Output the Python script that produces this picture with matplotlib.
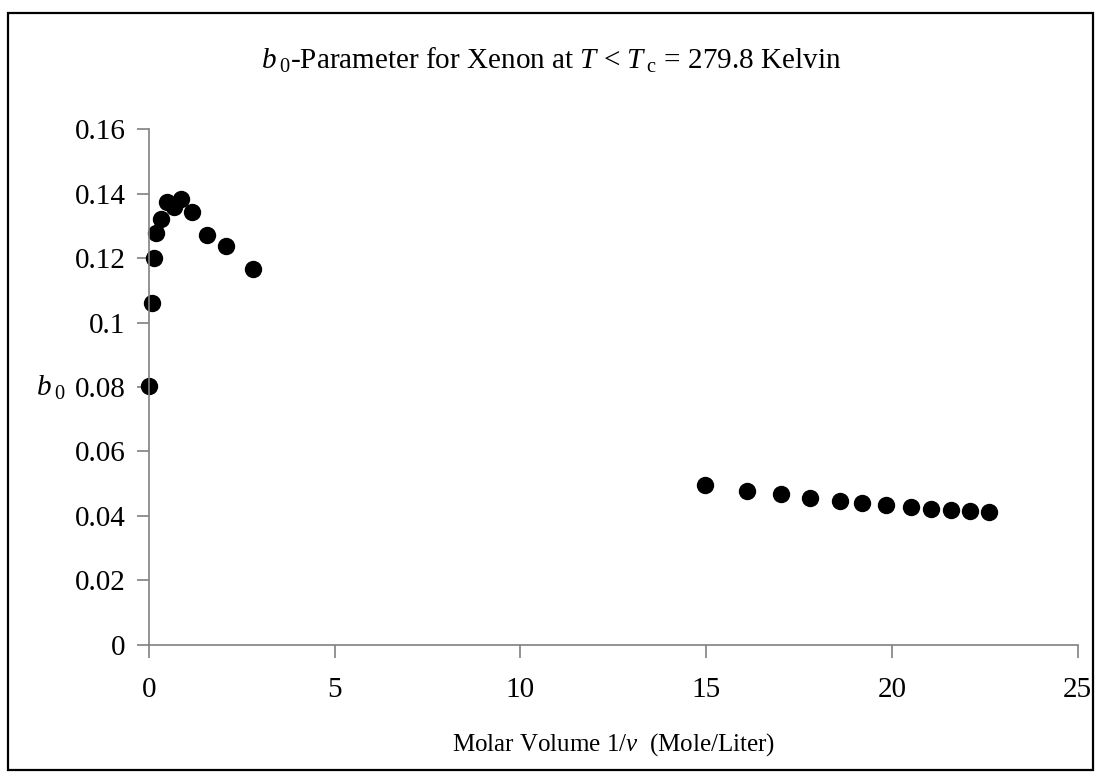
import matplotlib
matplotlib.use("Agg")
import matplotlib.pyplot as plt
from matplotlib.patches import Rectangle
from matplotlib.ticker import FuncFormatter

plt.rcParams["font.family"] = ["Liberation Serif", "DejaVu Serif"]
plt.rcParams["mathtext.fontset"] = "custom"
plt.rcParams["mathtext.rm"] = "Liberation Serif"
plt.rcParams["mathtext.it"] = "Liberation Serif:italic"

# gas branch (low density)
density_gas = [0.01, 0.08, 0.13, 0.19, 0.31, 0.48, 0.66, 0.87, 1.15, 1.55, 2.07, 2.81]
b0_gas = [0.0804, 0.1060, 0.1199, 0.1277, 0.1321, 0.1373, 0.1357, 0.1383, 0.1342, 0.1271, 0.1237, 0.1165]

# liquid branch (high density)
density_liq = [14.97, 16.1, 17.0, 17.8, 18.6, 19.2, 19.85, 20.5, 21.05, 21.6, 22.1, 22.6]
b0_liq = [0.0495, 0.0478, 0.0467, 0.0456, 0.0447, 0.0441, 0.0434, 0.0428, 0.0423, 0.0418, 0.0414, 0.0412]

xticks = [0, 5, 10, 15, 20, 25]
yticks = [0, 0.02, 0.04, 0.06, 0.08, 0.10, 0.12, 0.14, 0.16]

fig = plt.figure(figsize=(11.02, 7.8), dpi=100)
ax = fig.add_axes([0.1352, 0.1731, 0.978 - 0.1352, 0.8346 - 0.1731])

ax.plot(density_gas + density_liq, b0_gas + b0_liq, "o", color="black", ms=11.5, clip_on=False)

ax.set_xlim(0, 25)
ax.set_ylim(0, 0.16)
ax.set_xticks(xticks)
ax.set_yticks(yticks)
ax.yaxis.set_major_formatter(FuncFormatter(lambda v, p: f"{v:g}"))

for side in ["top", "right"]:
    ax.spines[side].set_visible(False)
for side in ["left", "bottom"]:
    ax.spines[side].set_color("#808080")
    ax.spines[side].set_linewidth(1.2)

ax.tick_params(axis="both", direction="out", length=9, width=1.2, color="#808080",
               labelsize=21, labelcolor="black")
ax.tick_params(axis="y", pad=8)
ax.tick_params(axis="x", pad=14)

ax.set_xlabel(r"Molar Volume 1/$v$  (Mole/Liter)", fontsize=18, labelpad=20)
fig.text(0.033, 0.503, r"$b\,_{\mathrm{0}}$", fontsize=21, ha="left", va="center")

fig.text(0.5, 0.923, r"$b\,_{\mathrm{0}}$-Parameter for Xenon at $T$ < $T\,_{\mathrm{c}}$ = 279.8 Kelvin",
         fontsize=21, ha="center", va="center")

# outer frame around the whole chart
fig.patches.append(Rectangle((8 / 1102, 10 / 780), 1085 / 1102, 757 / 780, transform=fig.transFigure,
                             fill=False, edgecolor="black", linewidth=1.6))

fig.savefig("out.png", dpi=100)
